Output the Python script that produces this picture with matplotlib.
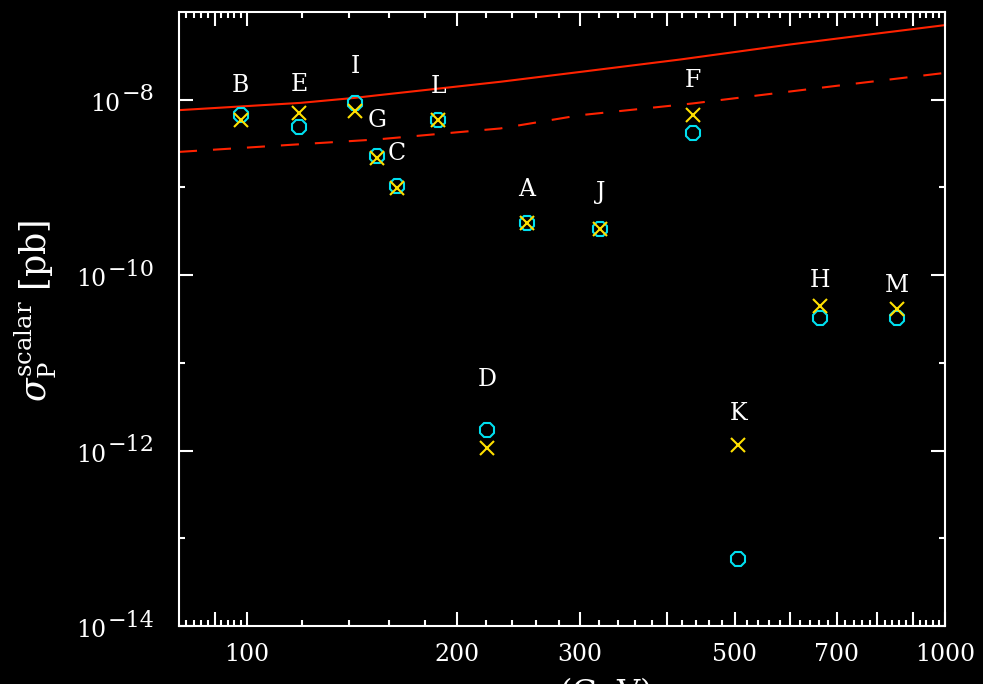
import numpy as np
import matplotlib
matplotlib.use('Agg')
import matplotlib.pyplot as plt
from matplotlib.ticker import FixedLocator, FixedFormatter, NullFormatter

plt.rcParams['font.family'] = 'DejaVu Serif'
plt.rcParams['mathtext.fontset'] = 'dejavuserif'
plt.rcParams['lines.scale_dashes'] = False

# benchmark points
names = ['B', 'E', 'I', 'G', 'C', 'L', 'A', 'J', 'F', 'H', 'M', 'D', 'K']
mass = [98, 119, 143, 153.5, 164, 188, 252, 321, 435, 663, 853, 221, 506]
sigma_circ = [6.65e-9, 4.9e-9, 9.05e-9, 2.27e-9, 1.03e-9, 5.94e-9, 3.98e-10,
              3.33e-10, 4.12e-9, 3.25e-11, 3.25e-11, 1.73e-12, 5.83e-14]
sigma_x = [5.84e-9, 7.08e-9, 7.39e-9, 2.17e-9, 9.87e-10, 5.94e-9, 3.98e-10,
           3.33e-10, 6.65e-9, 4.41e-11, 4.16e-11, 1.08e-12, 1.15e-12]
# label offsets above the upper marker (pixels)
label_dy = [30, 28, 37, 36, 33, 33, 33, 37, 35, 26, 23, 50, 32]

# sensitivity curves
curve_m = [80, 119.5, 143, 153.5, 230.8, 300, 417.5, 600, 700, 800, 1000]
curve_solid = [7.6e-9, 9.2e-9, 1.05e-8, 1.12e-8, 1.6e-8, 2.07e-8, 2.87e-8,
               4.26e-8, 4.97e-8, 5.68e-8, 7.08e-8]
dash_m = [80, 119.5, 153.5, 230.8, 300, 434.6, 600, 700, 1000]
curve_dash = [2.54e-9, 3.11e-9, 3.52e-9, 4.7e-9, 6.65e-9, 9.05e-9, 1.24e-8,
              1.44e-8, 2.02e-8]

xticks_lab = [100, 200, 300, 400, 500, 600, 700, 800, 900, 1000]
xticks_txt = ['100', '200', '300', '', '500', '', '700', '', '', '1000']
yticks_lab = [1e-14, 1e-12, 1e-10, 1e-8]
yticks_exp = ['\u221214', '\u221212', '\u221210', '\u22128']

fig = plt.figure(figsize=(9.83, 6.84), dpi=100, facecolor='black')
ax = fig.add_axes([0.1821, 0.0848, 0.7792, 0.8977])
ax.set_facecolor('black')
ax.set_xscale('log')
ax.set_yscale('log')
ax.set_xlim(80, 1000)
ax.set_ylim(1e-14, 1e-7)

ax.plot(curve_m, curve_solid, color='#ff2200', lw=1.5)
ax.plot(dash_m, curve_dash, color='#ff2200', lw=1.5, dashes=(13, 11.5))

ax.plot(mass, sigma_circ, ls='none', marker='8', ms=10.5, mfc='none',
        mec='#00e0f0', mew=1.5, zorder=3)
ax.plot(mass, sigma_x, ls='none', marker='x', ms=10, color='#ffe000',
        mew=1.5, zorder=4)

for i in range(len(names)):
    top = max(sigma_circ[i], sigma_x[i])
    ax.annotate(names[i], (mass[i], top), xytext=(0, label_dy[i] * 0.72),
                textcoords='offset points', ha='center', va='center',
                color='white', fontsize=17)

# ticks
minor_x = [v for v in range(82, 100, 2) if v != 90] + \
          [v for v in range(120, 1000, 20) if v % 100 != 0]
ax.xaxis.set_major_locator(FixedLocator([90] + xticks_lab))
ax.xaxis.set_major_formatter(FixedFormatter([''] + xticks_txt))
ax.xaxis.set_minor_locator(FixedLocator(minor_x))
ax.xaxis.set_minor_formatter(NullFormatter())

ax.yaxis.set_major_locator(FixedLocator(yticks_lab))
ax.yaxis.set_major_formatter(NullFormatter())
ax.yaxis.set_minor_locator(FixedLocator([1e-13, 1e-11, 1e-9]))
ax.yaxis.set_minor_formatter(NullFormatter())

# y tick labels drawn as base + large exponent
for yv, ex in zip(yticks_lab, yticks_exp):
    t_exp = ax.annotate(ex, (0, yv), xycoords=('axes fraction', 'data'),
                        xytext=(-17.5, -0.5), textcoords='offset points',
                        ha='right', va='baseline', color='white', fontsize=16)
    ax.annotate('10', (0, 0), xycoords=t_exp, xytext=(-1, -7.5),
                textcoords='offset points', ha='right', va='bottom',
                color='white', fontsize=17)

ax.tick_params(which='both', direction='in', top=True, right=True, color='white',
               width=1.5, labelcolor='white')
ax.tick_params(which='major', length=10)
ax.tick_params(which='minor', length=4)
ax.tick_params(axis='x', labelsize=17, pad=12)
for s in ax.spines.values():
    s.set_color('white')
    s.set_linewidth(1.5)

fig.text(0.037, 0.545, r'$\sigma_{\rm P}^{\rm scalar}$ [pb]', rotation=90,
         ha='center', va='center', color='white', fontsize=25)
fig.text(0.587, -0.028, r'$m_{\rm P}$ (GeV)', ha='center', va='baseline',
         color='white', fontsize=23)

fig.savefig('out.png', dpi=100, facecolor='black')
